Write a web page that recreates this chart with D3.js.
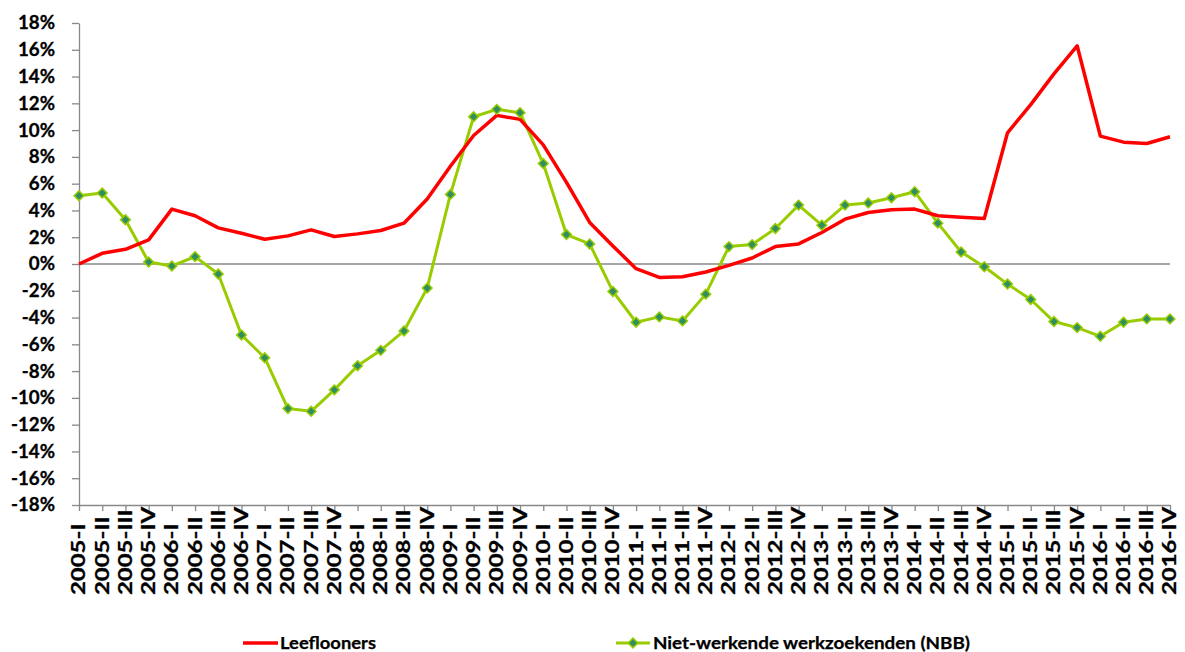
<!DOCTYPE html>
<html>
<head>
<meta charset="utf-8">
<script src="https://cdn.jsdelivr.net/npm/d3@7"></script>
<style>
  html, body { margin: 0; padding: 0; background: #ffffff; }
  svg { display: block; }
  text { font-family: "Lato", "Open Sans", sans-serif; font-weight: 700; fill: #000; }
</style>
</head>
<body>
<svg id="chart" width="1185" height="652"></svg>
<script>
// ---- data ----
const categories = [
  "2005-I","2005-II","2005-III","2005-IV",
  "2006-I","2006-II","2006-III","2006-IV",
  "2007-I","2007-II","2007-III","2007-IV",
  "2008-I","2008-II","2008-III","2008-IV",
  "2009-I","2009-II","2009-III","2009-IV",
  "2010-I","2010-II","2010-III","2010-IV",
  "2011-I","2011-II","2011-III","2011-IV",
  "2012-I","2012-II","2012-III","2012-IV",
  "2013-I","2013-II","2013-III","2013-IV",
  "2014-I","2014-II","2014-III","2014-IV",
  "2015-I","2015-II","2015-III","2015-IV",
  "2016-I","2016-II","2016-III","2016-IV"
];
const leeflooners = [
  0.0, 0.8, 1.1, 1.8,
  4.1, 3.6, 2.7, 2.3,
  1.85, 2.1, 2.55, 2.05,
  2.25, 2.5, 3.05, 4.85,
  7.3, 9.6, 11.1, 10.8,
  8.9, 6.1, 3.1, 1.35,
  -0.35, -1.0, -0.95, -0.6,
  -0.1, 0.45, 1.3, 1.5,
  2.35, 3.35, 3.85, 4.05,
  4.1, 3.6, 3.5, 3.4,
  9.8, 11.9, 14.2, 16.3,
  9.55, 9.1, 9.0, 9.5
];
const werkzoekenden = [
  5.1, 5.3, 3.3, 0.15,
  -0.15, 0.55, -0.75, -5.3,
  -7.0, -10.8, -11.0, -9.4,
  -7.6, -6.45, -5.0, -1.8,
  5.2, 11.0, 11.55, 11.3,
  7.5, 2.2, 1.5, -2.05,
  -4.35, -3.95, -4.25, -2.25,
  1.3, 1.45, 2.65, 4.4,
  2.9, 4.4, 4.55, 4.95,
  5.4, 3.05, 0.9, -0.2,
  -1.5, -2.65, -4.3, -4.75,
  -5.4, -4.35, -4.1, -4.1
];
const yTicks = [-18,-16,-14,-12,-10,-8,-6,-4,-2,0,2,4,6,8,10,12,14,16,18];
const seriesNames = ["Leeflooners", "Niet-werkende werkzoekenden (NBB)"];

// ---- layout ----
const svg = d3.select("#chart");
const plotLeft = 79, plotRight = 1170, plotTop = 23, plotBottom = 505;
const axisColor = "#898989";
const redColor = "#ff0000";
const greenColor = "#99cc00";
const markerFill = "#2f8f5f";

const x = d3.scalePoint().domain(categories).range([plotLeft, plotRight]);
const y = d3.scaleLinear().domain([-18, 18]).range([plotBottom, plotTop]);

// zero line
svg.append("line")
  .attr("x1", plotLeft).attr("x2", plotRight)
  .attr("y1", y(0)).attr("y2", y(0))
  .attr("stroke", axisColor).attr("stroke-width", 1.6);

// y axis
const yAxis = svg.append("g").attr("transform", `translate(${plotLeft},0)`)
  .call(d3.axisLeft(y).tickValues(yTicks).tickSize(7).tickSizeOuter(0).tickFormat(""));
yAxis.select(".domain").attr("stroke", axisColor).attr("stroke-width", 1.3);
yAxis.selectAll(".tick line").attr("stroke", axisColor).attr("stroke-width", 1.3);

const yLab = svg.append("g");
yTicks.forEach(t => {
  yLab.append("g")
    .attr("transform", `translate(55,${y(t)}) scale(1.04,1)`)
    .append("text")
    .attr("text-anchor", "end")
    .attr("dy", "0.36em")
    .style("font-size", "18px")
    .style("stroke", "#000").style("stroke-width", 0.3)
    .text(t + "%");
});

// x axis
const xAxis = svg.append("g").attr("transform", `translate(0,${plotBottom})`)
  .call(d3.axisBottom(x).tickSize(6).tickFormat("").tickSizeOuter(0));
xAxis.select(".domain").attr("stroke", axisColor).attr("stroke-width", 1.3);
xAxis.selectAll(".tick line").attr("stroke", axisColor).attr("stroke-width", 1.3);

const xLab = svg.append("g");
categories.forEach(c => {
  xLab.append("g")
    .attr("transform", `translate(${x(c)},595) rotate(-90) scale(1.33,1)`)
    .append("text")
    .attr("text-anchor", "start")
    .attr("dy", "0.36em")
    .style("font-size", "18px")
    .style("stroke", "#000").style("stroke-width", 0.3)
    .text(c);
});

// lines
const line = d3.line()
  .x((d, i) => x(categories[i]))
  .y(d => y(d));

svg.append("path")
  .datum(werkzoekenden)
  .attr("fill", "none")
  .attr("stroke", greenColor)
  .attr("stroke-width", 3)
  .attr("stroke-linejoin", "round")
  .attr("d", line);

svg.append("path")
  .datum(leeflooners)
  .attr("fill", "none")
  .attr("stroke", redColor)
  .attr("stroke-width", 3.5)
  .attr("stroke-linejoin", "round")
  .attr("d", line);

const diamond = d3.symbol().type(d3.symbolSquare).size(48);
svg.append("g").selectAll("path")
  .data(werkzoekenden)
  .join("path")
  .attr("transform", (d, i) => `translate(${x(categories[i])},${y(d)}) rotate(45)`)
  .attr("d", diamond)
  .attr("fill", markerFill)
  .attr("stroke", greenColor)
  .attr("stroke-width", 1.5);

// legend
const lg = svg.append("g");
lg.append("line").attr("x1", 243).attr("x2", 278).attr("y1", 643).attr("y2", 643)
  .attr("stroke", redColor).attr("stroke-width", 3.5);
lg.append("text").attr("x", 280).attr("y", 643).attr("dy", "0.36em")
  .style("font-size", "17px")
  .style("stroke", "#000").style("stroke-width", 0.25)
  .attr("textLength", 96).attr("lengthAdjust", "spacingAndGlyphs")
  .text(seriesNames[0]);

lg.append("line").attr("x1", 616).attr("x2", 650).attr("y1", 643).attr("y2", 643)
  .attr("stroke", greenColor).attr("stroke-width", 3);
lg.append("path").attr("transform", "translate(633,643) rotate(45)")
  .attr("d", diamond).attr("fill", markerFill)
  .attr("stroke", greenColor).attr("stroke-width", 1.5);
lg.append("text").attr("x", 653).attr("y", 643).attr("dy", "0.36em")
  .style("font-size", "17px")
  .style("stroke", "#000").style("stroke-width", 0.25)
  .attr("textLength", 317).attr("lengthAdjust", "spacingAndGlyphs")
  .text(seriesNames[1]);
</script>
</body>
</html>
